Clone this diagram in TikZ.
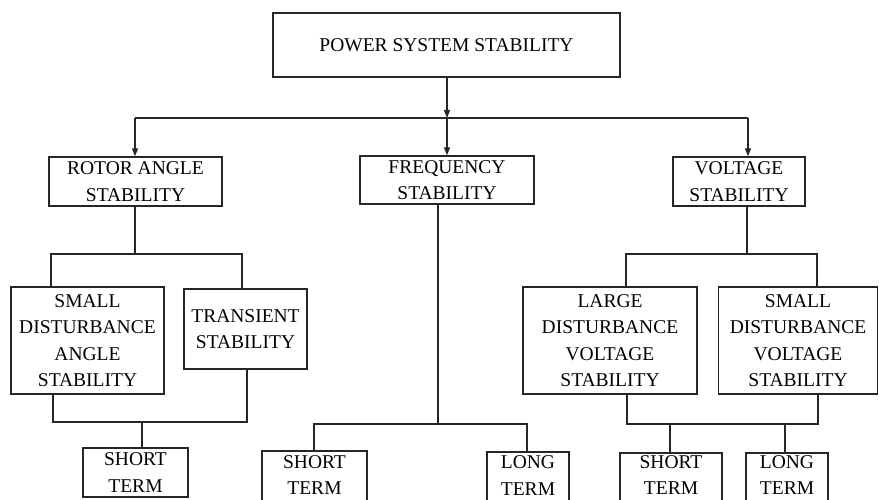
\documentclass[tikz,border=0pt]{standalone}
\usepackage{fontspec}
\setmainfont{Liberation Serif}
\usetikzlibrary{arrows.meta}
\begin{document}
\begin{tikzpicture}[x=1pt,y=-1pt,
  line width=1.2pt,
  box/.style={draw=black!85, line width=1.3pt, inner sep=0pt, align=center,
    font=\fontsize{19.5}{26.5}\selectfont, text=black},
  conn/.style={draw=black!85, line width=1.3pt},
  arr/.style={conn, -{Triangle[length=8pt,width=6pt]}}]
\useasboundingbox (0,0) rectangle (879,500);
\fill[white] (0,0) rectangle (879,500);
\clip (0,0) rectangle (879,500);

\node[box, minimum width=347pt, minimum height=64pt] (top) at (446.5,45) {POWER SYSTEM STABILITY};
\node[box, minimum width=173pt, minimum height=49pt] (rotor) at (135.5,181.5) {ROTOR ANGLE\\STABILITY};
\node[box, minimum width=174pt, minimum height=48pt] (freq) at (447,180) {FREQUENCY\\STABILITY};
\node[box, minimum width=132pt, minimum height=49pt] (volt) at (739,181.5) {VOLTAGE\\STABILITY};

\node[box, minimum width=153pt, minimum height=107pt] (sdas) at (87.5,340.5) {SMALL\\DISTURBANCE\\ANGLE\\STABILITY};
\node[box, minimum width=123pt, minimum height=80pt] (trans) at (245.5,329) {TRANSIENT\\STABILITY};
\node[box, minimum width=174pt, minimum height=107pt] (lvs) at (610,340.5) {LARGE\\DISTURBANCE\\VOLTAGE\\STABILITY};
\node[box, minimum width=159pt, minimum height=107pt] (svs) at (798,340.5) {SMALL\\DISTURBANCE\\VOLTAGE\\STABILITY};

\node[box, minimum width=105pt, minimum height=49pt] (st1) at (135.5,472.5) {SHORT\\TERM};
\node[box, minimum width=105pt, minimum height=52pt, text depth=4pt] (st2) at (314.5,477) {SHORT\\TERM};
\node[box, minimum width=82pt, minimum height=51pt, text depth=4pt] (lt2) at (528,477.5) {LONG\\TERM};
\node[box, minimum width=102pt, minimum height=50pt, text depth=6pt] (st3) at (671,478) {SHORT\\TERM};
\node[box, minimum width=82pt, minimum height=50pt, text depth=6pt] (lt3) at (787,478) {LONG\\TERM};

% top level
\coordinate (b0) at (447,118);
\coordinate (bl) at (135,118);
\coordinate (br) at (748,118);
\draw[conn] (bl) -- (br);
\draw[arr] (top.south -| b0) -- (b0);
\draw[arr] (bl) -- (bl |- rotor.north);
\draw[arr] (b0) -- (b0 |- freq.north);
\draw[arr] (br) -- (br |- volt.north);

% rotor angle branch
\coordinate (r0) at (135,254);
\coordinate (r1) at (51,254);
\coordinate (r2) at (242,254);
\draw[conn] (r0 |- rotor.south) -- (r0);
\draw[conn] (r1 |- sdas.north) -- (r1) -- (r2) -- (r2 |- trans.north);
\coordinate (r3) at (53,422);
\coordinate (r4) at (247,422);
\coordinate (r5) at (142,422);
\draw[conn] (r3 |- sdas.south) -- (r3) -- (r4) -- (r4 |- trans.south);
\draw[conn] (r5) -- (r5 |- st1.north);

% frequency branch
\coordinate (f0) at (438,424);
\coordinate (f1) at (314,424);
\coordinate (f2) at (527,424);
\draw[conn] (f0 |- freq.south) -- (f0);
\draw[conn] (f1 |- st2.north) -- (f1) -- (f2) -- (f2 |- lt2.north);

% voltage branch
\coordinate (v0) at (747,254);
\coordinate (v1) at (626,254);
\coordinate (v2) at (817,254);
\draw[conn] (v0 |- volt.south) -- (v0);
\draw[conn] (v1 |- lvs.north) -- (v1) -- (v2) -- (v2 |- svs.north);
\coordinate (v3) at (627,424);
\coordinate (v4) at (818,424);
\coordinate (v5) at (670,424);
\coordinate (v6) at (785,424);
\draw[conn] (v3 |- lvs.south) -- (v3) -- (v4) -- (v4 |- svs.south);
\draw[conn] (v5) -- (v5 |- st3.north);
\draw[conn] (v6) -- (v6 |- lt3.north);
\end{tikzpicture}
\end{document}
